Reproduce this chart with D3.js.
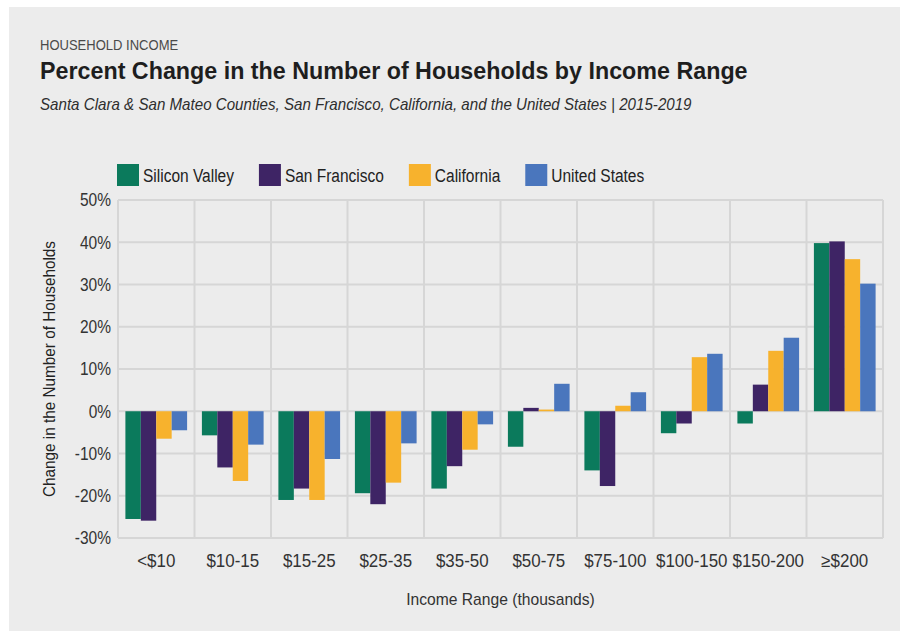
<!DOCTYPE html>
<html>
<head>
<meta charset="utf-8">
<script src="https://cdn.jsdelivr.net/npm/d3@7"></script>
<style>
  html, body { margin: 0; padding: 0; background: #fff; }
  svg text { font-family: 'Liberation Sans', Arial, sans-serif; }
</style>
</head>
<body>
<svg id="chart" width="900" height="631"></svg>
<script>
// income ranges (thousands)
const categories = ["<$10", "$10-15", "$15-25", "$25-35", "$35-50", "$50-75", "$75-100", "$100-150", "$150-200", "≥$200"];
const seriesNames = ["Silicon Valley", "San Francisco", "California", "United States"];
const seriesColors = ["#0b7a5c", "#3e2465", "#f7b22d", "#4a76bd"];

// percent change 2015-2019
const siliconValley = [-25.5, -5.7, -21.0, -19.4, -18.3, -8.4, -14.0, -5.2, -2.9, 39.8];
const sanFrancisco  = [-25.9, -13.3, -18.3, -22.0, -13.0, 0.8, -17.7, -2.9, 6.3, 40.2];
const california    = [-6.5, -16.5, -21.0, -16.9, -9.1, 0.4, 1.3, 12.8, 14.3, 36.0];
const unitedStates  = [-4.5, -7.9, -11.3, -7.6, -3.1, 6.5, 4.5, 13.6, 17.4, 30.2];

const yTicks = [-30, -20, -10, 0, 10, 20, 30, 40, 50];

const allSeries = [siliconValley, sanFrancisco, california, unitedStates];

const svg = d3.select("#chart");
const W = 900, H = 631;
const margin = { top: 200, right: 17, bottom: 93, left: 118 };

// the source uses a condensed face; squeeze the glyphs horizontally
function condense(sel, f) {
  sel.each(function () {
    const len = this.getComputedTextLength();
    d3.select(this).attr("textLength", len * f).attr("lengthAdjust", "spacingAndGlyphs");
  });
}

// grey panel
svg.append("rect")
  .attr("x", 9).attr("y", 7)
  .attr("width", W - 9).attr("height", H - 7)
  .attr("fill", "#ececec");

// titles
svg.append("text")
  .attr("x", 40).attr("y", 50)
  .attr("font-size", 14)
  .attr("fill", "#4a4a4a")
  .text("HOUSEHOLD INCOME")
  .call(condense, 0.93);

svg.append("text")
  .attr("x", 40).attr("y", 79)
  .attr("font-size", 24)
  .attr("font-weight", "bold")
  .attr("fill", "#1e1e1e")
  .text("Percent Change in the Number of Households by Income Range")
  .call(condense, 0.97);

svg.append("text")
  .attr("x", 40).attr("y", 110)
  .attr("font-size", 17)
  .attr("font-style", "italic")
  .attr("fill", "#2e2e2e")
  .text("Santa Clara & San Mateo Counties, San Francisco, California, and the United States | 2015-2019")
  .call(condense, 0.89);

// scales
const x = d3.scaleBand()
  .domain(categories)
  .range([margin.left, W - margin.right])
  .padding(0);

const xSub = d3.scaleBand()
  .domain(seriesNames)
  .range([0, x.bandwidth()])
  .paddingInner(0)
  .paddingOuter(0.48);

const y = d3.scaleLinear()
  .domain([-30, 50])
  .range([H - margin.bottom, margin.top]);

// grid
const grid = svg.append("g").attr("stroke", "#d6d6d6").attr("stroke-width", 2);
grid.selectAll("line.h")
  .data(yTicks)
  .enter().append("line")
  .attr("x1", margin.left).attr("x2", W - margin.right)
  .attr("y1", d => y(d)).attr("y2", d => y(d));
grid.selectAll("line.v")
  .data(categories.concat([null]))
  .enter().append("line")
  .attr("x1", (d, i) => i < categories.length ? x(d) : x.range()[1])
  .attr("x2", (d, i) => i < categories.length ? x(d) : x.range()[1])
  .attr("y1", y(50)).attr("y2", y(-30));

// bars
const groups = svg.append("g").selectAll("g")
  .data(categories)
  .enter().append("g")
  .attr("transform", d => `translate(${x(d)},0)`);

groups.selectAll("rect")
  .data((c, ci) => seriesNames.map((s, si) => ({ s, si, v: allSeries[si][ci] })))
  .enter().append("rect")
  .attr("x", d => xSub(d.s))
  .attr("width", xSub.bandwidth())
  .attr("y", d => y(Math.max(0, d.v)))
  .attr("height", d => Math.abs(y(d.v) - y(0)))
  .attr("fill", d => seriesColors[d.si]);

// y axis labels
const yAxis = svg.append("g")
  .attr("transform", `translate(${margin.left - 4},0)`)
  .call(d3.axisLeft(y).tickValues(yTicks).tickSize(0).tickFormat(d => d + "%"));
yAxis.select(".domain").remove();
yAxis.selectAll("text")
  .attr("font-size", 18)
  .attr("fill", "#333")
  .attr("font-family", null)
  .call(condense, 0.86);

// x axis labels
const xAxis = svg.append("g")
  .attr("transform", `translate(0,${y(-30)})`)
  .call(d3.axisBottom(x).tickSize(0).tickPadding(16));
xAxis.select(".domain").remove();
xAxis.selectAll("text")
  .attr("font-size", 18)
  .attr("fill", "#333")
  .attr("font-family", null)
  .call(condense, 0.94);

// axis titles
svg.append("text")
  .attr("transform", `translate(55,${(y(50) + y(-30)) / 2}) rotate(-90)`)
  .attr("text-anchor", "middle")
  .attr("font-size", 17)
  .attr("fill", "#222")
  .text("Change in the Number of Households")
  .call(condense, 0.9);

svg.append("text")
  .attr("x", (x.range()[0] + x.range()[1]) / 2)
  .attr("y", 605)
  .attr("text-anchor", "middle")
  .attr("font-size", 17)
  .attr("fill", "#333")
  .text("Income Range (thousands)")
  .call(condense, 0.92);

// legend
const legend = svg.append("g").attr("transform", "translate(117,164)");
let lx = 0;
seriesNames.forEach((name, i) => {
  const item = legend.append("g").attr("transform", `translate(${lx},0)`);
  item.append("rect")
    .attr("width", 22).attr("height", 22)
    .attr("fill", seriesColors[i]);
  const t = item.append("text")
    .attr("x", 26).attr("y", 18)
    .attr("font-size", 18)
    .attr("fill", "#222")
    .text(name)
    .call(condense, 0.86);
  lx += 26 + +t.attr("textLength") + 25;
});
</script>
</body>
</html>
